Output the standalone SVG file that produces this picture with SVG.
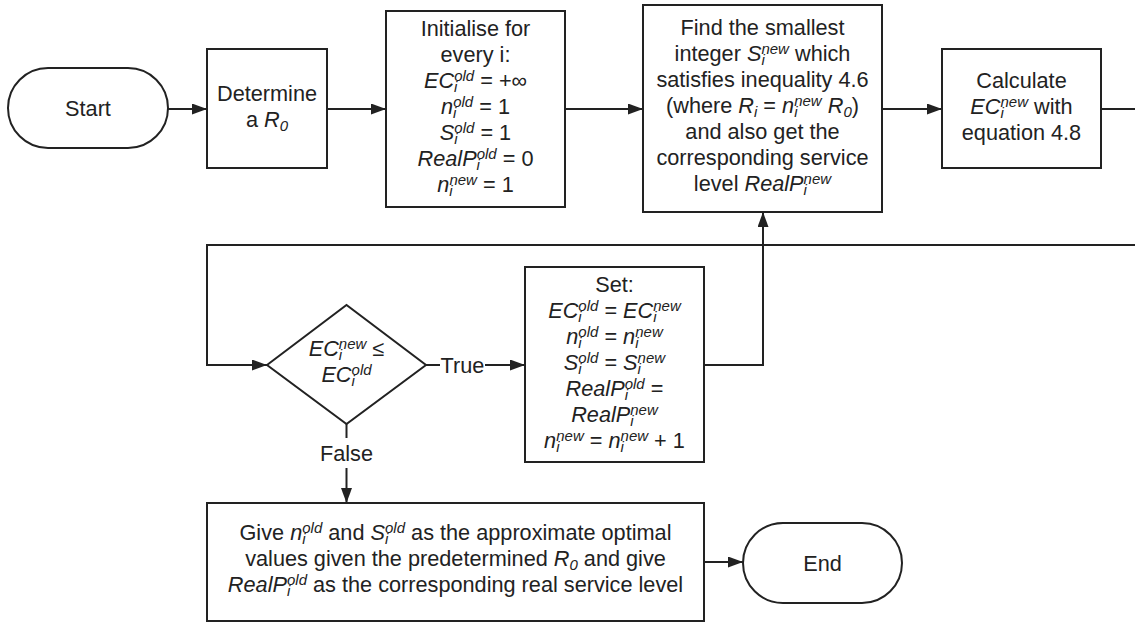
<svg xmlns="http://www.w3.org/2000/svg" width="1135" height="623" viewBox="0 0 1135 623">
  <style>
    .shape { fill: #ffffff; stroke: #222222; stroke-width: 2; }
    .edge { fill: none; stroke: #222222; stroke-width: 2; }
    .t { font-family: "Liberation Sans", Arial, sans-serif; font-size: 21.7px; fill: #222222; text-anchor: middle; }
    .i { font-style: italic; }
    .s { font-size: 15px; }
    .lbl { fill: #ffffff; stroke: none; }
  </style>
  <defs>
    <marker id="arrow" markerUnits="userSpaceOnUse" markerWidth="15" markerHeight="11" refX="15" refY="5.5" orient="auto">
      <path d="M0,0 L15,5.5 L0,11 z" fill="#222222"/>
    </marker>
  </defs>

  <rect width="1135" height="623" fill="#ffffff"/>

  <!-- connectors -->
  <g id="connectors">
    <path class="edge" d="M168,109 H207" marker-end="url(#arrow)"/>
    <path class="edge" d="M327,109 H386" marker-end="url(#arrow)"/>
    <path class="edge" d="M565,109 H643" marker-end="url(#arrow)"/>
    <path class="edge" d="M882,109 H942" marker-end="url(#arrow)"/>
    <!-- loop back from the calculation step to the decision -->
    <path class="edge" d="M1101,109 H1160 V245 H207 V365 H267" marker-end="url(#arrow)"/>
    <!-- True branch -->
    <path class="edge" d="M426,365 H525" marker-end="url(#arrow)"/>
    <rect class="lbl" x="440" y="350" width="45" height="28"/>
    <text class="t" x="462.5" y="372.5">True</text>
    <!-- back up to the search step -->
    <path class="edge" d="M704,365 H763 V212" marker-end="url(#arrow)"/>
    <!-- False branch -->
    <path class="edge" d="M346.5,424 V503" marker-end="url(#arrow)"/>
    <rect class="lbl" x="318" y="438" width="57" height="30"/>
    <text class="t" x="346.5" y="461">False</text>
    <path class="edge" d="M704,562 H743" marker-end="url(#arrow)"/>
  </g>

  <g id="start">
    <rect class="shape" x="8" y="68" width="160" height="80" rx="40" ry="40"/>
    <text class="t" x="88" y="115.5">Start</text>
  </g>

  <g id="determine">
    <rect class="shape" x="207" y="49" width="120" height="119"/>
    <text class="t" x="267" y="101">Determine</text>
    <text class="t" x="267" y="127">a <tspan class="i">R</tspan><tspan class="i s" dy="4">0</tspan></text>
  </g>

  <g id="initialise">
    <rect class="shape" x="386" y="11" width="179" height="196"/>
    <text class="t" x="475.5" y="35.5">Initialise for</text>
    <text class="t" x="475.5" y="61.5">every i:</text>
    <text class="t" x="475.5" y="87.5"><tspan class="i">EC</tspan><tspan class="i s" dy="4">i</tspan><tspan class="i s" dx="-3.3" dy="-11">old</tspan><tspan dy="7"> = +∞</tspan></text>
    <text class="t" x="475.5" y="113.5"><tspan class="i">n</tspan><tspan class="i s" dy="4">i</tspan><tspan class="i s" dx="-3.3" dy="-11">old</tspan><tspan dy="7"> = 1</tspan></text>
    <text class="t" x="475.5" y="139.5"><tspan class="i">S</tspan><tspan class="i s" dy="4">i</tspan><tspan class="i s" dx="-3.3" dy="-11">old</tspan><tspan dy="7"> = 1</tspan></text>
    <text class="t" x="475.5" y="165.5"><tspan class="i">RealP</tspan><tspan class="i s" dy="4">i</tspan><tspan class="i s" dx="-3.3" dy="-11">old</tspan><tspan dy="7"> = 0</tspan></text>
    <text class="t" x="475.5" y="191.5"><tspan class="i">n</tspan><tspan class="i s" dy="4">i</tspan><tspan class="i s" dx="-3.3" dy="-11">new</tspan><tspan dy="7"> = 1</tspan></text>
  </g>

  <g id="find">
    <rect class="shape" x="643" y="5" width="239" height="207"/>
    <text class="t" x="762.5" y="35">Find the smallest</text>
    <text class="t" x="762.5" y="61">integer <tspan class="i">S</tspan><tspan class="i s" dy="4">i</tspan><tspan class="i s" dx="-3.3" dy="-11">new</tspan><tspan dy="7"> which</tspan></text>
    <text class="t" x="762.5" y="87">satisfies inequality 4.6</text>
    <text class="t" x="762.5" y="113">(where <tspan class="i">R</tspan><tspan class="i s" dy="4">i</tspan><tspan dy="-4"> = </tspan><tspan class="i">n</tspan><tspan class="i s" dy="4">i</tspan><tspan class="i s" dx="-3.3" dy="-11">new</tspan><tspan dy="7"> </tspan><tspan class="i">R</tspan><tspan class="i s" dy="4">0</tspan><tspan dy="-4">)</tspan></text>
    <text class="t" x="762.5" y="139">and also get the</text>
    <text class="t" x="762.5" y="165">corresponding service</text>
    <text class="t" x="762.5" y="191">level <tspan class="i">RealP</tspan><tspan class="i s" dy="4">i</tspan><tspan class="i s" dx="-3.3" dy="-11">new</tspan></text>
  </g>

  <g id="calculate">
    <rect class="shape" x="942" y="49" width="159" height="119"/>
    <text class="t" x="1021.5" y="87.5">Calculate</text>
    <text class="t" x="1021.5" y="113.5"><tspan class="i">EC</tspan><tspan class="i s" dy="4">i</tspan><tspan class="i s" dx="-3.3" dy="-11">new</tspan><tspan dy="7"> with</tspan></text>
    <text class="t" x="1021.5" y="139.5">equation 4.8</text>
  </g>

  <g id="decision">
    <polygon class="shape" points="267,365 346.5,305 426,365 346.5,424"/>
    <text class="t" x="346.5" y="355.5"><tspan class="i">EC</tspan><tspan class="i s" dy="4">i</tspan><tspan class="i s" dx="-3.3" dy="-11">new</tspan><tspan dy="7"> ≤</tspan></text>
    <text class="t" x="346.5" y="381.5"><tspan class="i">EC</tspan><tspan class="i s" dy="4">i</tspan><tspan class="i s" dx="-3.3" dy="-11">old</tspan></text>
  </g>

  <g id="set">
    <rect class="shape" x="525" y="267" width="179" height="195"/>
    <text class="t" x="614.5" y="291.5">Set:</text>
    <text class="t" x="614.5" y="317.5"><tspan class="i">EC</tspan><tspan class="i s" dy="4">i</tspan><tspan class="i s" dx="-3.3" dy="-11">old</tspan><tspan dy="7"> = </tspan><tspan class="i">EC</tspan><tspan class="i s" dy="4">i</tspan><tspan class="i s" dx="-3.3" dy="-11">new</tspan></text>
    <text class="t" x="614.5" y="343.5"><tspan class="i">n</tspan><tspan class="i s" dy="4">i</tspan><tspan class="i s" dx="-3.3" dy="-11">old</tspan><tspan dy="7"> = </tspan><tspan class="i">n</tspan><tspan class="i s" dy="4">i</tspan><tspan class="i s" dx="-3.3" dy="-11">new</tspan></text>
    <text class="t" x="614.5" y="369.5"><tspan class="i">S</tspan><tspan class="i s" dy="4">i</tspan><tspan class="i s" dx="-3.3" dy="-11">old</tspan><tspan dy="7"> = </tspan><tspan class="i">S</tspan><tspan class="i s" dy="4">i</tspan><tspan class="i s" dx="-3.3" dy="-11">new</tspan></text>
    <text class="t" x="614.5" y="395.5"><tspan class="i">RealP</tspan><tspan class="i s" dy="4">i</tspan><tspan class="i s" dx="-3.3" dy="-11">old</tspan><tspan dy="7"> =</tspan></text>
    <text class="t" x="614.5" y="421.5"><tspan class="i">RealP</tspan><tspan class="i s" dy="4">i</tspan><tspan class="i s" dx="-3.3" dy="-11">new</tspan></text>
    <text class="t" x="614.5" y="447.5"><tspan class="i">n</tspan><tspan class="i s" dy="4">i</tspan><tspan class="i s" dx="-3.3" dy="-11">new</tspan><tspan dy="7"> = </tspan><tspan class="i">n</tspan><tspan class="i s" dy="4">i</tspan><tspan class="i s" dx="-3.3" dy="-11">new</tspan><tspan dy="7"> + 1</tspan></text>
  </g>

  <g id="result">
    <rect class="shape" x="207" y="503" width="497" height="118"/>
    <text class="t" x="455.5" y="539.5">Give <tspan class="i">n</tspan><tspan class="i s" dy="4">i</tspan><tspan class="i s" dx="-3.3" dy="-11">old</tspan><tspan dy="7"> and </tspan><tspan class="i">S</tspan><tspan class="i s" dy="4">i</tspan><tspan class="i s" dx="-3.3" dy="-11">old</tspan><tspan dy="7"> as the approximate optimal</tspan></text>
    <text class="t" x="455.5" y="565.5">values given the predetermined <tspan class="i">R</tspan><tspan class="i s" dy="4">0</tspan><tspan dy="-4"> and give</tspan></text>
    <text class="t" x="455.5" y="591.5"><tspan class="i">RealP</tspan><tspan class="i s" dy="4">i</tspan><tspan class="i s" dx="-3.3" dy="-11">old</tspan><tspan dy="7"> as the corresponding real service level</tspan></text>
  </g>

  <g id="end">
    <rect class="shape" x="743" y="523" width="159" height="80" rx="40" ry="40"/>
    <text class="t" x="822.5" y="570.5">End</text>
  </g>
</svg>
